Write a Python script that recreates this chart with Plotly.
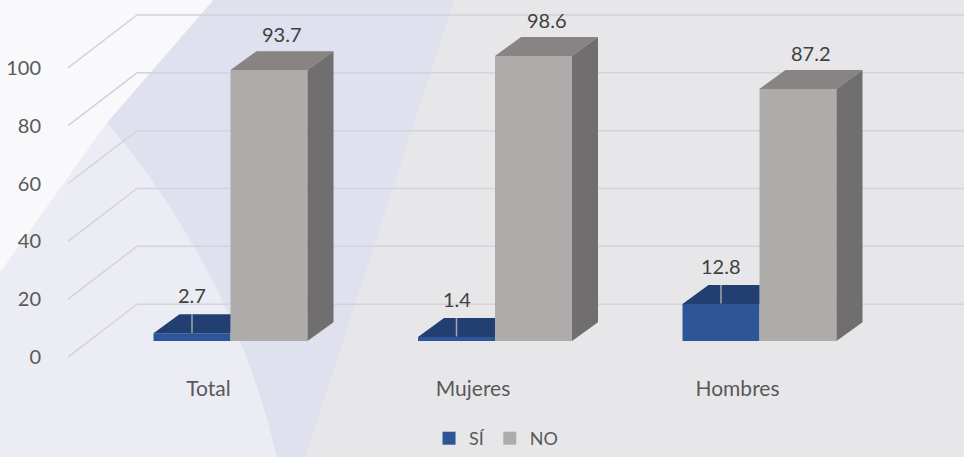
import plotly.graph_objects as go

# ---------------- data ----------------
categories = ["Total", "Mujeres", "Hombres"]
si_values = [2.7, 1.4, 12.8]
no_values = [93.7, 98.6, 87.2]
series_names = ["SÍ", "NO"]
y_ticks = [0, 20, 40, 60, 80, 100]

# ---------------- layout constants (pixel based) ----------------
W_PX, H_PX = 964, 457
L, T, B = 50, 0, 82
plot_w = W_PX - L
plot_h = H_PX - T - B

PX_PER_X = 264.5      # pixels per category step
X0_PX = 230.5         # pixel of first category centre
PX_PER_Y = 2.9        # pixels per value unit
BASE_PX = 342         # pixel row of value 0 (bar front)

x_range = [(L - X0_PX) / PX_PER_X, (W_PX - X0_PX) / PX_PER_X]
y_range = [(BASE_PX - (T + plot_h)) / PX_PER_Y, (BASE_PX - T) / PX_PER_Y]

BAR_W = 77 / PX_PER_X
DX = 26 / PX_PER_X          # depth offset (x)
DY = 19 / PX_PER_Y          # depth offset (y)
WALL_DY = 37 / PX_PER_Y     # back wall above bar front
FLOOR_DY = -16 / PX_PER_Y   # front floor edge below bar front
X_FRONT = (68 - X0_PX) / PX_PER_X
X_BACK = (137 - X0_PX) / PX_PER_X
LABEL_DX = -22 / PX_PER_X

FONT = "Lato, 'Open Sans', Arial, sans-serif"
C_BLUE, C_BLUE_TOP = "#2e5597", "#223f72"
C_GRAY, C_GRAY_TOP, C_GRAY_SIDE = "#aeabab", "#878483", "#706e6e"
SERIES_COLORS = [C_BLUE, C_GRAY]

pos = list(range(len(categories)))

fig = go.Figure()

# front faces
fig.add_trace(go.Bar(x=pos, y=si_values, name=series_names[0], offset=-BAR_W, width=BAR_W,
                     marker=dict(color=C_BLUE, line=dict(width=0)), showlegend=False))
fig.add_trace(go.Bar(x=pos, y=no_values, name=series_names[1], offset=0, width=BAR_W,
                     marker=dict(color=C_GRAY, line=dict(width=0)), showlegend=False))


def poly_trace(xs, ys, color):
    return go.Scatter(x=xs, y=ys, mode="lines", fill="toself", fillcolor=color,
                      line=dict(width=0, color=color), showlegend=False, hoverinfo="skip")


# blue top faces (right part hidden behind gray bar)
bx, by = [], []
for p, v in zip(pos, si_values):
    xl, xr = p - BAR_W, p
    bx += [xl, xr, xr, xl + DX, xl, None]
    by += [v, v, v + DY, v + DY, v, None]
fig.add_trace(poly_trace(bx, by, C_BLUE_TOP))

# gray top & side faces
tx, ty, sx, sy = [], [], [], []
for p, v in zip(pos, no_values):
    xl, xr = p, p + BAR_W
    tx += [xl, xr, xr + DX, xl + DX, xl, None]
    ty += [v, v, v + DY, v + DY, v, None]
    sx += [xr, xr, xr + DX, xr + DX, xr, None]
    sy += [0, v, v + DY, DY, 0, None]
fig.add_trace(poly_trace(tx, ty, C_GRAY_TOP))
fig.add_trace(poly_trace(sx, sy, C_GRAY_SIDE))

# leader lines for small blue labels
lx, ly = [], []
for p, v in zip(pos, si_values):
    xc = p - BAR_W / 2
    lx += [xc, xc, None]
    ly += [v + DY, v + 0.2, None]
fig.add_trace(go.Scatter(x=lx, y=ly, mode="lines", line=dict(color="#a6a6a6", width=1.5),
                         showlegend=False, hoverinfo="skip"))

# legend entries (square swatches)
for name, col in zip(series_names, SERIES_COLORS):
    fig.add_trace(go.Scatter(x=[None], y=[None], mode="markers", name=name,
                             marker=dict(symbol="square", size=13, color=col),
                             showlegend=True, hoverinfo="skip"))

# data labels
annotations = []
for p, v in zip(pos, si_values):
    annotations.append(dict(x=p - BAR_W / 2, y=v + DY, text=f"{v:.1f}", showarrow=False,
                            yanchor="middle", yshift=19,
                            font=dict(family=FONT, size=20, color="#404040")))
for p, v in zip(pos, no_values):
    annotations.append(dict(x=p + BAR_W / 2 + DX / 2, y=v + DY, text=f"{v:.1f}", showarrow=False,
                            yanchor="middle", yshift=17,
                            font=dict(family=FONT, size=20, color="#404040")))

# gridlines: back wall + side diagonal
shapes = []
for v in y_ticks:
    shapes.append(dict(type="path", xref="x", yref="y", layer="below",
                       path=f"M {X_FRONT},{v + FLOOR_DY} L {X_BACK},{v + WALL_DY} L {x_range[1] + 0.2},{v + WALL_DY}",
                       line=dict(color="#d4d4d8", width=1.5)))


# background decoration (paper coordinates from pixels)
def P(px, py):
    return f"{(px - L) / plot_w:.5f},{(T + plot_h - py) / plot_h:.5f}"


bg = [
    ("#dfe1ee", f"M {P(215,-2)} L {P(455,-2)} L {P(305,459)} L {P(277,459)} "
                f"C {P(250,340)} {P(190,220)} {P(107,123)} Z"),
    ("#ebecf4", f"M {P(107,123)} C {P(190,220)} {P(250,340)} {P(277,459)} "
                f"L {P(-2,459)} L {P(-2,275)} Z"),
    ("#f9f9fb", f"M {P(-2,-2)} L {P(215,-2)} L {P(107,123)} L {P(-2,276)} Z"),
]
bg_shapes = [dict(type="path", xref="paper", yref="paper", layer="below", path=pth,
                  fillcolor=col, line=dict(width=0)) for col, pth in bg]

fig.update_layout(
    width=W_PX, height=H_PX,
    margin=dict(l=L, r=0, t=T, b=B),
    paper_bgcolor="#e7e7ea",
    plot_bgcolor="rgba(0,0,0,0)",
    barmode="overlay",
    shapes=bg_shapes + shapes,
    annotations=annotations,
    showlegend=True,
    legend=dict(orientation="h", x=0.488, xanchor="center", y=(T + plot_h - 440) / plot_h,
                yanchor="middle", bgcolor="rgba(0,0,0,0)", itemwidth=30,
                font=dict(family=FONT, size=18, color="#595959")),
    xaxis=dict(range=x_range, tickvals=[p + LABEL_DX for p in pos], ticktext=categories,
               showgrid=False, zeroline=False, showline=False, ticks="",
               tickfont=dict(family=FONT, size=21, color="#595959"), fixedrange=True),
    yaxis=dict(range=y_range, tickvals=[v + FLOOR_DY for v in y_ticks],
               ticktext=[str(v) for v in y_ticks], ticklabelstandoff=8,
               showgrid=False, zeroline=False, showline=False, ticks="",
               tickfont=dict(family=FONT, size=20, color="#595959"), fixedrange=True),
    hovermode=False,
)

fig.write_html("out.html", config={"displayModeBar": False},
               post_script="document.body.style.margin='0';document.body.style.overflow='hidden';")
